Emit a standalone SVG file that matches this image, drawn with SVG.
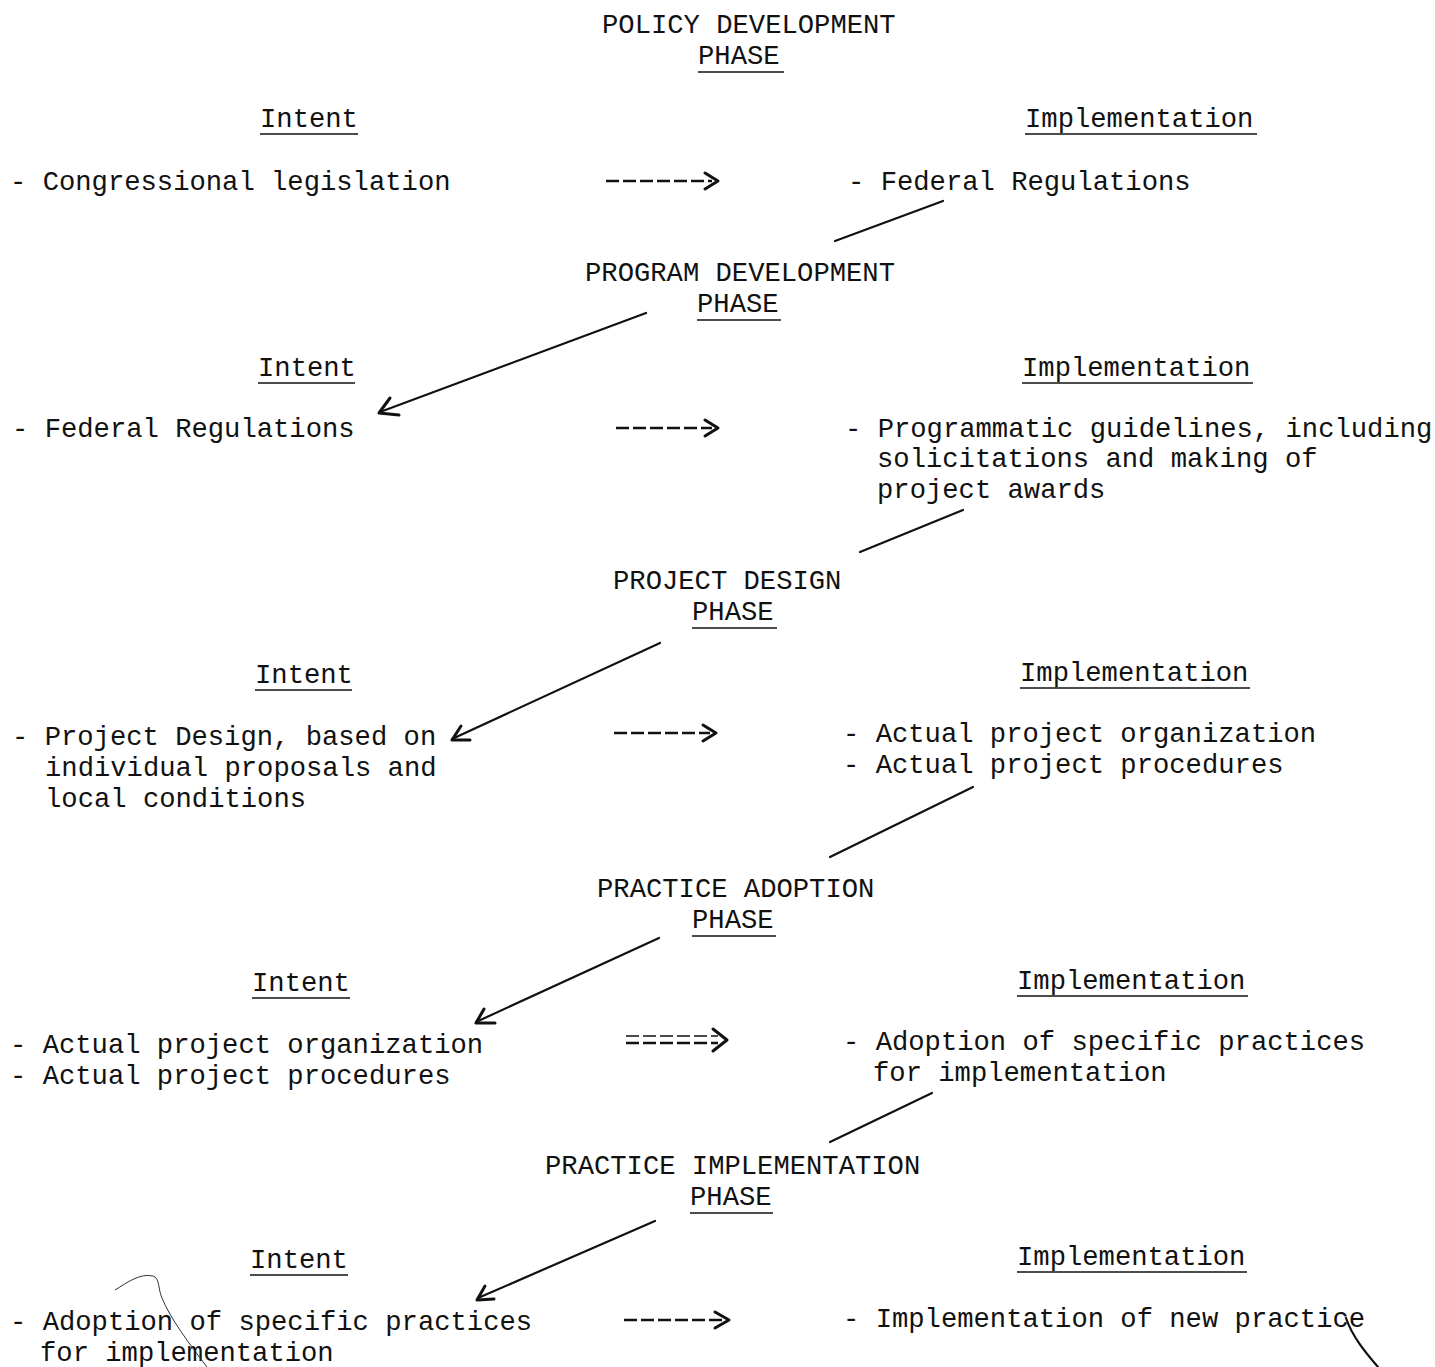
<svg xmlns="http://www.w3.org/2000/svg" width="1435" height="1367" viewBox="0 0 1435 1367">
<style>
text{font-family:"Liberation Mono","Courier New",monospace;font-size:27.2px;fill:#111}
.u{stroke:#111;stroke-width:1.6}
.c{stroke:#111;stroke-width:2.2;fill:none;stroke-linecap:round}
.d{stroke:#111;stroke-width:2.6;fill:none;stroke-dasharray:13 4}
.h{stroke:#111;stroke-width:3;fill:none;stroke-linecap:round;stroke-linejoin:round}
.thin{stroke:#333;stroke-width:1;fill:none}
</style>
<rect width="1435" height="1367" fill="#fff"/>

<g id="phase-policy"><text x="602" y="33">POLICY DEVELOPMENT</text><text x="698" y="64">PHASE</text><line class="u" x1="698" y1="72" x2="784" y2="72"/></g>
<g id="intent-1"><text x="260" y="127">Intent</text><line class="u" x1="260" y1="134" x2="358" y2="134"/><text x="10" y="190">- Congressional legislation</text></g>
<g id="impl-1"><text x="1025" y="127">Implementation</text><line class="u" x1="1025" y1="134" x2="1257" y2="134"/><text x="848" y="190">- Federal Regulations</text></g>

<g id="phase-program"><text x="585" y="281">PROGRAM DEVELOPMENT</text><text x="697" y="312">PHASE</text><line class="u" x1="697" y1="320" x2="781" y2="320"/></g>
<g id="intent-2"><text x="258" y="376">Intent</text><line class="u" x1="258" y1="383" x2="355" y2="383"/><text x="12" y="437">- Federal Regulations</text></g>
<g id="impl-2"><text x="1022" y="376">Implementation</text><line class="u" x1="1022" y1="383" x2="1253" y2="383"/><text x="845" y="437">- Programmatic guidelines, including</text><text x="877" y="467">solicitations and making of</text><text x="877" y="498">project awards</text></g>

<g id="phase-project"><text x="613" y="589">PROJECT DESIGN</text><text x="692" y="620">PHASE</text><line class="u" x1="692" y1="628" x2="777" y2="628"/></g>
<g id="intent-3"><text x="255" y="683">Intent</text><line class="u" x1="255" y1="690" x2="352" y2="690"/><text x="12" y="745">- Project Design, based on</text><text x="45" y="776">individual proposals and</text><text x="45" y="807">local conditions</text></g>
<g id="impl-3"><text x="1020" y="681">Implementation</text><line class="u" x1="1020" y1="688" x2="1250" y2="688"/><text x="843" y="742">- Actual project organization</text><text x="843" y="773">- Actual project procedures</text></g>

<g id="phase-adoption"><text x="597" y="897">PRACTICE ADOPTION</text><text x="692" y="928">PHASE</text><line class="u" x1="692" y1="936" x2="776" y2="936"/></g>
<g id="intent-4"><text x="252" y="991">Intent</text><line class="u" x1="252" y1="998" x2="350" y2="998"/><text x="10" y="1053">- Actual project organization</text><text x="10" y="1084">- Actual project procedures</text></g>
<g id="impl-4"><text x="1017" y="989">Implementation</text><line class="u" x1="1017" y1="996" x2="1248" y2="996"/><text x="843" y="1050">- Adoption of specific practices</text><text x="873" y="1081">for implementation</text></g>

<g id="phase-implementation"><text x="545" y="1174">PRACTICE IMPLEMENTATION</text><text x="690" y="1205">PHASE</text><line class="u" x1="690" y1="1213" x2="773" y2="1213"/></g>
<g id="intent-5"><text x="250" y="1268">Intent</text><line class="u" x1="250" y1="1275" x2="348" y2="1275"/><text x="10" y="1330">- Adoption of specific practices</text><text x="40" y="1361">for implementation</text></g>
<g id="impl-5"><text x="1017" y="1265">Implementation</text><line class="u" x1="1017" y1="1272" x2="1247" y2="1272"/><text x="843" y="1327">- Implementation of new practice</text></g>

<g id="connectors">
<path class="d" d="M606 181H712"/><path class="h" d="M705 173L718 181L705 189"/>
<path class="d" d="M616 428H712"/><path class="h" d="M705 420L718 428L705 436"/>
<path class="d" d="M614 733H710"/><path class="h" d="M703 725L716 733L703 741"/>
<path class="d" d="M626 1036H718" style="stroke-width:1.6"/><path class="d" d="M626 1043H718"/><path class="h" d="M713 1029L727 1040L713 1051"/>
<path class="d" d="M624 1320H722"/><path class="h" d="M715 1312L729 1320L715 1328"/>

<line class="c" x1="943" y1="201" x2="835" y2="241"/>
<line class="c" x1="646" y1="313" x2="380" y2="412"/><path class="h" d="M390 398L379 413L399 415"/>
<line class="c" x1="963" y1="510" x2="860" y2="552"/>
<line class="c" x1="660" y1="643" x2="452" y2="739"/><path class="h" d="M461 726L452 740L470 740"/>
<line class="c" x1="973" y1="787" x2="830" y2="857"/>
<line class="c" x1="659" y1="938" x2="476" y2="1022"/><path class="h" d="M484 1009L476 1023L495 1023"/>
<line class="c" x1="932" y1="1093" x2="830" y2="1142"/>
<line class="c" x1="655" y1="1221" x2="478" y2="1298"/><path class="h" d="M485 1286L477 1300L494 1299"/>
<path class="c" d="M1346 1318C1352 1336 1365 1352 1378 1367"/>
<path class="thin" d="M115 1290C128 1282 140 1273 153 1276C160 1278 158 1290 162 1298C170 1318 190 1345 207 1367"/>
</g>
</svg>
